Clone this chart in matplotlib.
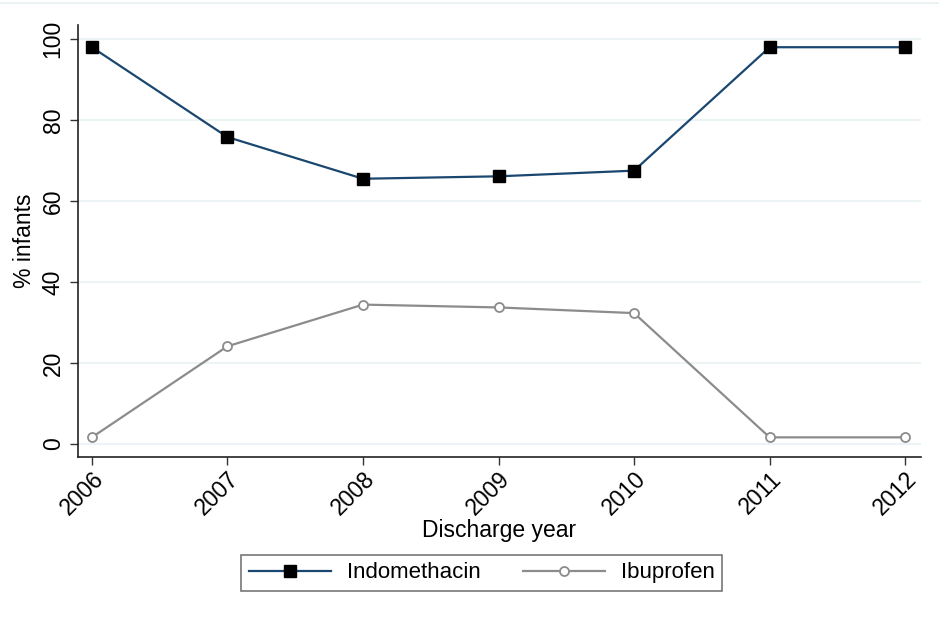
import matplotlib
matplotlib.use("Agg")
import matplotlib.pyplot as plt
from matplotlib.lines import Line2D

years = [2006, 2007, 2008, 2009, 2010, 2011, 2012]
indomethacin = [98.0, 75.8, 65.5, 66.1, 67.5, 98.0, 98.0]
ibuprofen = [1.6, 24.1, 34.4, 33.7, 32.3, 1.6, 1.6]
yticks = [0, 20, 40, 60, 80, 100]

plt.rcParams['font.family'] = ['Liberation Sans', 'DejaVu Sans']

fig = plt.figure(figsize=(9.39, 6.24), dpi=100)
ax = fig.add_axes([0.083, 0.268, 0.898, 0.692])

# faint frame line at the top of the picture
fig.add_artist(Line2D([0, 1], [0.995, 0.995], color='#eaf2f3', lw=1.5))

for y in yticks:
    ax.axhline(y, color='#eaf2f3', lw=1.2, zorder=0)

ax.plot(years, indomethacin, color='#1a476f', lw=1.6, marker='s', ms=9,
        mfc='black', mec='black', label='Indomethacin', zorder=3)
ax.plot(years, ibuprofen, color='#8c8c8c', lw=1.6, marker='o', ms=6.5,
        mfc='white', mec='#8c8c8c', mew=1.3, label='Ibuprofen', zorder=3)

ax.set_xlim(2005.897, 2012.118)
ax.set_ylim(-3.2, 103.5)
ax.set_xticks(years)
ax.set_xticklabels([str(y) for y in years], rotation=45, ha='right',
                   rotation_mode='anchor', fontsize=16.5)
ax.set_yticks(yticks)
ax.set_yticklabels([str(y) for y in yticks], rotation=90, va='center', fontsize=16.5)
ax.tick_params(axis='both', length=6, width=1, color='#333333')
ax.tick_params(axis='x', pad=1.5)

for s in ['top', 'right']:
    ax.spines[s].set_visible(False)
for s in ['left', 'bottom']:
    ax.spines[s].set_linewidth(1.2)
    ax.spines[s].set_color('#222222')

ax.set_xlabel('Discharge year', fontsize=16.5, labelpad=0)
ax.set_ylabel('% infants', fontsize=16.5, labelpad=4)

leg = fig.legend(loc='center', bbox_to_anchor=(0.513, 0.082), ncol=2,
                 fontsize=16, frameon=True, fancybox=False, edgecolor='#555555',
                 handlelength=3.7, columnspacing=1.9, borderpad=0.35,
                 handletextpad=0.7)
leg.get_frame().set_linewidth(1.2)

fig.savefig('out.png', dpi=100, facecolor='white')
